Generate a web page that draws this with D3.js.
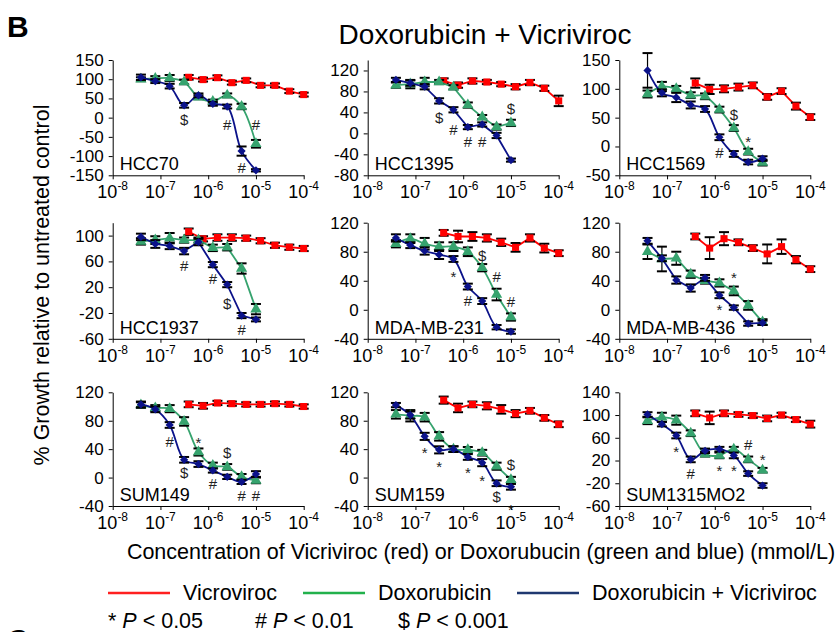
<!DOCTYPE html>
<html lang="en">
<head>
<meta charset="utf-8">
<title>Doxorubicin + Vicriviroc</title>
<script src="https://cdn.jsdelivr.net/npm/d3@7"></script>
<style>
  body { margin: 0; background: #fff; }
  svg { display: block; font-family: "Liberation Sans", Arial, sans-serif; }
  .axis path, .axis line { stroke: #000; }
  .axis text { font-size: 17px; fill: #000; }
</style>
</head>
<body>
<svg id="vis" width="837" height="632"></svg>
<script>
// doses (as plotted on the log axis)
var doseDox = [3.9e-8, 7.8e-8, 1.56e-7, 3.13e-7, 6.25e-7, 1.25e-6, 2.5e-6, 5e-6, 1e-5];
var doseVic = [3.9e-7, 7.8e-7, 1.56e-6, 3.13e-6, 6.25e-6, 1.25e-5, 2.5e-5, 5e-5, 1e-4];
var xTicks = [1e-8, 1e-7, 1e-6, 1e-5, 1e-4];

var cellLines = ["HCC70", "HCC1395", "HCC1569", "HCC1937", "MDA-MB-231", "MDA-MB-436", "SUM149", "SUM159", "SUM1315MO2"];
var yMin  = [-150, -80, -50, -60, -40, -40, -40, -40, -60];
var yMax  = [150, 140, 150, 120, 120, 120, 120, 120, 140];
var yStep = [50, 40, 50, 40, 40, 40, 40, 40, 40];
var smooth = [true, false, true, false, true, false, true, true, true];

// % growth : Vicriviroc (red), Doxorubicin (green), Doxorubicin + Vicriviroc (blue)
var vic_HCC70   = [105, 99, 104, 91, 97, 84, 84, 69, 60];
var dox_HCC70   = [100, 102, 103, 93, 53, 42, 58, 29, -68];
var combo_HCC70 = [105, 95, 82, 32, 58, 36, 29, -87, -137];
var vic_HCC1395   = [100, 92, 100, 98, 94, 89, 97, 86, 62];
var dox_HCC1395   = [92, 94, 98, 98, 88, 54, 31, 12, 20];
var combo_HCC1395 = [102, 96, 89, 62, 45, 12, 17, -4, -51];
var vic_HCC1569   = [110, 99, 100, 103, 106, 86, 96, 70, 51];
var dox_HCC1569   = [91, 104, 100, 89, 87, 64, 32, -9, -28];
var combo_HCC1569 = [132, 93, 85, 72, 65, 16, -13, -27, -21];
var vic_HCC1937   = [106, 95, 97, 97, 96, 92, 85, 82, 80];
var dox_HCC1937   = [91, 93, 96, 93, 93, 81, 82, 49, -14];
var combo_HCC1937 = [98, 87, 84, 76, 90, 55, 24, -24, -30];
var vic_MDA231   = [106, 101, 101, 99, 93, 86, 99, 85, 78];
var dox_MDA231   = [91, 98, 91, 87, 87, 80, 58, 21, -10];
var combo_MDA231 = [99, 89, 81, 76, 70, 32, 12, -24, -30];
var vic_MDA436   = [101, 85, 98, 93, 85, 77, 87, 69, 56];
var dox_MDA436   = [80, 70, 71, 49, 40, 37, 26, 6, -17];
var combo_MDA436 = [95, 71, 41, 30, 44, 20, 3, -19, -18];
var vic_SUM149   = [103, 101, 105, 104, 103, 103, 104, 103, 100];
var dox_SUM149   = [102, 98, 97, 79, 36, 17, 15, 1, -4];
var combo_SUM149 = [103, 96, 74, 25, 19, 10, 1, -6, 5];
var vic_SUM159   = [109, 98, 103, 101, 96, 90, 94, 84, 75];
var dox_SUM159   = [89, 87, 85, 58, 40, 39, 35, 16, -3];
var combo_SUM159 = [102, 88, 58, 39, 40, 29, 21, -8, -13];
var vic_SUM1315   = [103, 95, 103, 101, 99, 94, 100, 92, 84];
var dox_SUM1315   = [90, 96, 91, 68, 31, 29, 40, 22, 3];
var combo_SUM1315 = [101, 84, 64, 22, 37, 40, 29, -3, -24];

// error bars (+/-)
var vicErr = [
  [6, 5, 6, 5, 5, 5, 5, 5, 5], [5, 5, 5, 4, 4, 5, 5, 5, 10], [8, 8, 6, 6, 5, 5, 5, 6, 5],
  [5, 4, 5, 5, 4, 4, 4, 4, 4], [4, 8, 6, 5, 5, 6, 5, 6, 4], [4, 15, 9, 4, 4, 13, 10, 5, 4],
  [4, 4, 3, 3, 3, 3, 3, 3, 3], [5, 6, 4, 5, 6, 5, 4, 4, 4], [5, 11, 5, 4, 4, 5, 4, 4, 6]];
var doxErr = [
  [5, 6, 8, 6, 5, 5, 5, 7, 10], [5, 8, 8, 4, 4, 5, 4, 5, 6], [6, 8, 5, 5, 5, 5, 5, 5, 5],
  [5, 6, 8, 4, 4, 5, 5, 8, 8], [5, 6, 8, 6, 6, 6, 5, 8, 5], [10, 17, 9, 5, 4, 5, 6, 6, 4],
  [4, 4, 5, 6, 5, 4, 4, 4, 4], [6, 8, 6, 6, 4, 4, 4, 5, 4], [6, 8, 8, 5, 4, 5, 4, 5, 4]];
var comboErr = [
  [7, 5, 6, 6, 5, 5, 5, 12, 3], [4, 5, 5, 5, 5, 4, 4, 5, 3], [30, 6, 8, 6, 5, 5, 5, 4, 4],
  [5, 6, 5, 5, 5, 4, 4, 4, 3], [5, 4, 5, 6, 4, 4, 4, 3, 3], [4, 4, 5, 5, 4, 4, 3, 3, 3],
  [4, 4, 4, 4, 4, 3, 3, 3, 4], [3, 5, 5, 5, 4, 4, 5, 4, 4], [4, 4, 5, 5, 4, 4, 5, 4, 4]];

// significance marks: [dose index, growth value, symbol]
var sig = [
  [[3, -6, "$"], [6, -17, "#"], [8, -17, "#"], [7, -131, "#"]],
  [[3, 31, "$"], [4, 8, "#"], [5, -15, "#"], [6, -15, "#"], [8, 48, "$"]],
  [[6, 56, "$"], [7, 14, "*"], [5, -10, "#"]],
  [[3, 54, "#"], [5, 33, "#"], [6, -6, "$"], [7, -45, "#"]],
  [[4, 50, "*"], [5, 13, "#"], [6, 75, "$"], [7, 46, "#"], [8, 11, "#"]],
  [[6, 49, "*"], [5, 4, "*"]],
  [[2, 51, "#"], [4, 54, "*"], [3, 7, "$"], [6, 35, "$"], [5, -8, "#"], [7, -25, "#"], [8, -25, "#"]],
  [[2, 39, "*"], [3, 20, "*"], [5, 12, "*"], [6, 0, "*"], [7, -27, "$"], [8, -40, "*"], [8, 18, "$"]],
  [[2, 41, "*"], [3, -2, "#"], [5, 7, "*"], [6, 7, "*"], [7, 48, "#"], [8, 27, "*"]]];

var vicData = [vic_HCC70, vic_HCC1395, vic_HCC1569, vic_HCC1937, vic_MDA231, vic_MDA436, vic_SUM149, vic_SUM159, vic_SUM1315];
var doxData = [dox_HCC70, dox_HCC1395, dox_HCC1569, dox_HCC1937, dox_MDA231, dox_MDA436, dox_SUM149, dox_SUM159, dox_SUM1315];
var comboData = [combo_HCC70, combo_HCC1395, combo_HCC1569, combo_HCC1937, combo_MDA231, combo_MDA436, combo_SUM149, combo_SUM159, combo_SUM1315];

var RED = "#ff0000", GREEN = "#36a36e", BLUE = "#0b128a";

var svg = d3.select("#vis");
var colX = [112.7, 367.7, 619.3], plotW = 191;
var rowTop = [60, 222.7, 392.3], rowBot = [175.3, 338.8, 506];

cellLines.forEach(function(name, i) {
  var c = i % 3, r = Math.floor(i / 3);
  var x = d3.scaleLog().domain([1e-8, 1e-4]).range([colX[c], colX[c] + plotW]);
  var y = d3.scaleLinear().domain([yMin[i], yMax[i]]).range([rowBot[r], rowTop[r]]);
  var g = svg.append("g");

  var yt = d3.range(yMin[i], yMax[i] + 0.1, yStep[i]);
  g.append("g").attr("class", "axis")
    .attr("transform", "translate(" + colX[c] + ",0)")
    .call(d3.axisLeft(y).tickValues(yt).tickSize(4).tickSizeOuter(0).tickPadding(5)
      .tickFormat(function(d) { return String(d); }));

  g.append("g").attr("class", "axis")
    .attr("transform", "translate(0," + rowBot[r] + ")")
    .call(d3.axisBottom(x).tickValues(xTicks).tickSize(4).tickSizeOuter(0).tickFormat(""));
  xTicks.forEach(function(t) {
    var tx = g.append("text").attr("x", x(t)).attr("y", rowBot[r] + 23)
      .attr("text-anchor", "middle").style("font-size", "18px");
    tx.append("tspan").text("10");
    tx.append("tspan").attr("dy", -8).style("font-size", "12px").text(String(Math.round(Math.log10(t))));
  });

  g.append("text").attr("x", colX[c] + 7).attr("y", rowBot[r] - 5)
    .style("font-size", "18px").text(name);

  var curve = smooth[i] ? d3.curveCatmullRom.alpha(0.5) : d3.curveLinear;

  function series(vals, errs, doses, color, shape, cv) {
    var pts = vals.map(function(v, k) { return [doses[k], v, errs[k]]; });
    g.append("path").datum(pts)
      .attr("fill", "none").attr("stroke", color).attr("stroke-width", 1.8)
      .attr("d", d3.line().x(function(d) { return x(d[0]); }).y(function(d) { return y(d[1]); }).curve(cv));
    var eb = g.append("g").selectAll("g").data(pts).enter().append("g");
    eb.append("line").attr("x1", function(d) { return x(d[0]); }).attr("x2", function(d) { return x(d[0]); })
      .attr("y1", function(d) { return y(d[1] - d[2]); }).attr("y2", function(d) { return y(d[1] + d[2]); })
      .attr("stroke", "#000").attr("stroke-width", 1.2);
    [-1, 1].forEach(function(s) {
      eb.append("line").attr("x1", function(d) { return x(d[0]) - 5; }).attr("x2", function(d) { return x(d[0]) + 5; })
        .attr("y1", function(d) { return y(d[1] + s * d[2]); }).attr("y2", function(d) { return y(d[1] + s * d[2]); })
        .attr("stroke", "#000").attr("stroke-width", 2);
    });
    g.append("g").selectAll("path").data(pts).enter().append("path")
      .attr("transform", function(d) { return "translate(" + x(d[0]) + "," + y(d[1]) + ") rotate(" + (shape.rot || 0) + ")"; })
      .attr("d", d3.symbol().type(shape.type).size(shape.size))
      .attr("fill", color);
  }

  series(vicData[i], vicErr[i], doseVic, RED, { type: d3.symbolSquare, size: 50 }, d3.curveLinear);
  series(doxData[i], doxErr[i], doseDox, GREEN, { type: d3.symbolTriangle, size: 55 }, curve);
  series(comboData[i], comboErr[i], doseDox, BLUE, { type: d3.symbolSquare, size: 34, rot: 45 }, curve);

  sig[i].forEach(function(s) {
    var off = s[2] === "*" ? 8.5 : 5.5;
    g.append("text").attr("x", x(doseDox[s[0]])).attr("y", y(s[1]) + off)
      .attr("text-anchor", "middle").style("font-size", "15px").attr("fill", "#222").text(s[2]);
  });
});

// titles and labels
svg.append("text").attr("x", 7).attr("y", 37).style("font-size", "30px").style("font-weight", "bold").text("B");
svg.append("text").attr("x", 485).attr("y", 44).attr("text-anchor", "middle").style("font-size", "28px")
  .text("Doxorubicin + Vicriviroc");
svg.append("text").attr("transform", "translate(49,285) rotate(-90)").attr("text-anchor", "middle")
  .style("font-size", "21.5px").text("% Growth relative to untreated control");
svg.append("text").attr("x", 481).attr("y", 559).attr("text-anchor", "middle").style("font-size", "21.5px")
  .text("Concentration of Vicriviroc (red) or Doxorubucin (green and blue) (mmol/L)");

var legendNames = ["Vicroviroc", "Doxorubicin", "Doxorubicin + Vicriviroc"];
var legendColors = ["#ff2020", "#22b14c", "#1f3870"];
var legendX = [108, 303, 517];
legendNames.forEach(function(n, k) {
  svg.append("line").attr("x1", legendX[k]).attr("x2", legendX[k] + 62).attr("y1", 593).attr("y2", 593)
    .attr("stroke", legendColors[k]).attr("stroke-width", 2.5);
  svg.append("text").attr("x", legendX[k] + 75).attr("y", 600).style("font-size", "21.5px").text(n);
});

var pSyms = ["*", "#", "$"], pVals = ["0.05", "0.01", "0.001"], pX = [108, 255, 398];
pSyms.forEach(function(s, k) {
  var t = svg.append("text").attr("x", pX[k]).attr("y", 628).style("font-size", "21.5px");
  t.append("tspan").text(s + " ");
  t.append("tspan").style("font-style", "italic").text("P");
  t.append("tspan").text(" < " + pVals[k]);
});

svg.append("text").attr("x", 7).attr("y", 650).style("font-size", "30px").style("font-weight", "bold").text("C");
</script>
</body>
</html>
